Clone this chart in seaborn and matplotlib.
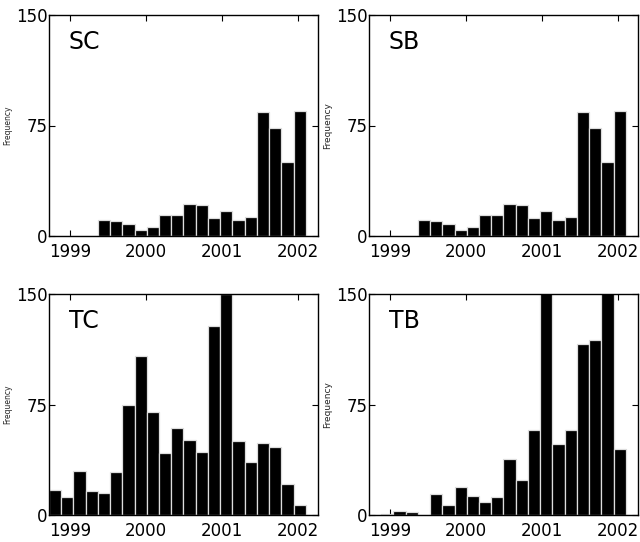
import numpy as np
import pandas as pd
import matplotlib
matplotlib.use("Agg")
import matplotlib.pyplot as plt
import seaborn as sns

# bin grid (fractional years)
bin_start = 1998.72
bin_end = 2002.27
n_bins = 22

sc_counts = [0, 0, 0, 0, 11, 10, 8, 4, 6, 14, 14, 22, 21, 12, 17, 11, 13, 84, 73, 50, 85, 0]
sb_counts = [0, 0, 0, 0, 11, 10, 8, 4, 6, 14, 14, 22, 21, 12, 17, 11, 13, 84, 73, 50, 85, 0]
tc_counts = [17, 12, 30, 16, 15, 29, 75, 108, 70, 42, 59, 51, 43, 128, 150, 50, 36, 49, 46, 21, 7, 0]
tb_counts = [0, 1, 3, 2, 0, 14, 7, 19, 13, 9, 12, 38, 24, 58, 170, 48, 58, 116, 119, 160, 45, 0]

panel_names = ["SC", "SB", "TC", "TB"]
panel_counts = [sc_counts, sb_counts, tc_counts, tb_counts]
ylabel_sizes = [5.5, 6.5, 5.5, 6.5]

year_ticks = [1999, 2000, 2001, 2002]
year_labels = ["1999", "2000", "2001", "2002"]
y_ticks = [0, 75, 150]
y_labels = ["0", "75", "150"]

sns.set_style("ticks")
plt.rcParams["font.family"] = ["DejaVu Sans"]

fig = plt.figure(figsize=(6.4, 5.42), dpi=100)
W, H = 640, 542
rects = [
    (49, 15, 318, 236),
    (369, 15, 638, 236),
    (49, 294, 318, 515),
    (369, 294, 638, 515),
]

edges = np.linspace(bin_start, bin_end, n_bins + 1)
centers = (edges[:-1] + edges[1:]) / 2

for (x0, y0, x1, y1), name, counts, ls in zip(rects, panel_names, panel_counts, ylabel_sizes):
    ax = fig.add_axes([x0 / W, 1 - y1 / H, (x1 - x0) / W, (y1 - y0) / H])
    df = pd.DataFrame({"t": centers, "n": np.asarray(counts, dtype=float)})
    sns.histplot(data=df, x="t", weights="n", bins=edges.tolist(), ax=ax,
                 color="black", edgecolor="#dddddd", linewidth=0.9, alpha=1.0)
    ax.set_xlim(bin_start, bin_end)
    ax.set_ylim(0, 150)
    ax.set_xticks(year_ticks)
    ax.set_xticklabels(year_labels)
    ax.set_yticks(y_ticks)
    ax.set_yticklabels(y_labels)
    ax.tick_params(direction="in", top=True, right=True, length=4, width=0.8,
                   labelsize=12, colors="black")
    ax.tick_params(axis="y", pad=1)
    ax.tick_params(axis="x", pad=5)
    for s in ax.spines.values():
        s.set_visible(True)
        s.set_color("black")
        s.set_linewidth(1.0)
    ax.set_xlabel("")
    ax.set_ylabel("Frequency", fontsize=ls)
    ax.yaxis.set_label_coords(-0.1375, 0.5)
    ax.text(0.074, 0.846, name, transform=ax.transAxes, fontsize=17,
            va="baseline", ha="left", color="black")

fig.savefig("out.png", dpi=100)
